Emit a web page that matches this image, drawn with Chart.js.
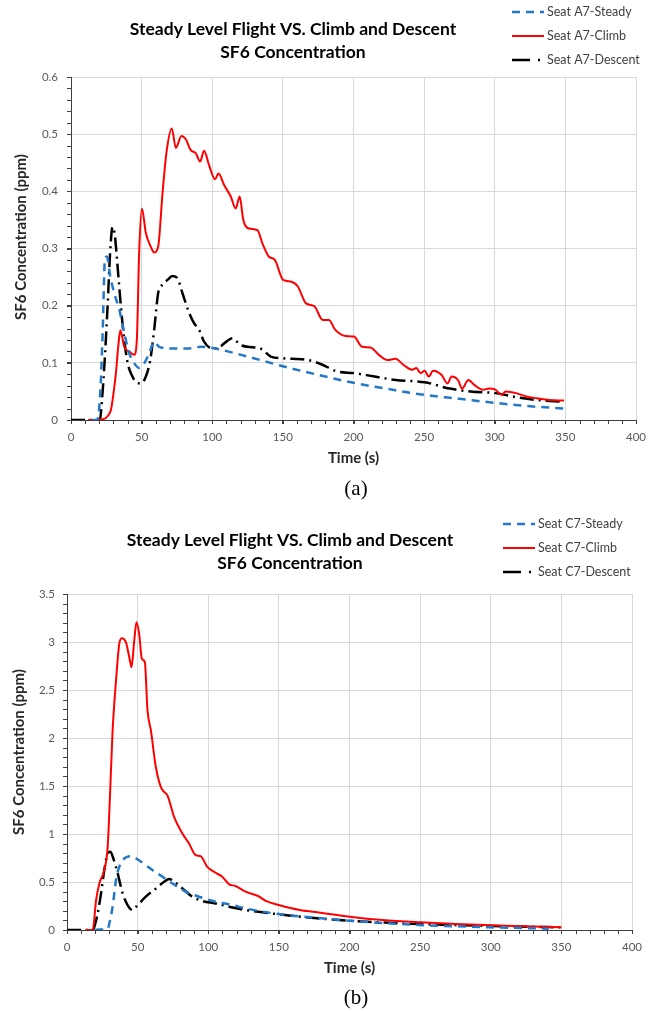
<!DOCTYPE html>
<html>
<head>
<meta charset="utf-8">
<script src="https://cdn.jsdelivr.net/npm/chart.js@4.4.0/dist/chart.umd.min.js"></script>
<style>
  body { margin: 0; background: #fff; width: 655px; height: 1012px; position: relative; overflow: hidden; }
  .box { position: absolute; left: 0; width: 655px; }
  .cap { position: absolute; transform: translate(-50%, -50%); font-family: "Liberation Serif", serif; font-size: 21px; color: #000; }
</style>
</head>
<body>
<div class="box" style="top:0;height:505px"><canvas id="chartA" width="655" height="505"></canvas></div>
<div class="box" style="top:505px;height:507px"><canvas id="chartB" width="655" height="507"></canvas></div>
<div class="cap" style="left:356px;top:488px">(a)</div>
<div class="cap" style="left:356px;top:997px">(b)</div>
<script>
// chart titles
var titleLines = ['Steady Level Flight VS. Climb and Descent', 'SF6 Concentration'];
var yTitle = 'SF6 Concentration (ppm)';
var xTicks = [0, 50, 100, 150, 200, 250, 300, 350, 400];
var yTicksA = [0, 0.1, 0.2, 0.3, 0.4, 0.5, 0.6];
var yTicksB = [0, 0.5, 1, 1.5, 2, 2.5, 3, 3.5];

// (a) Seat A7
var a7SteadyT = [15, 18.5, 20.7, 22.4, 24, 25.4, 27.8, 30.6, 34.2, 37.7, 41.2, 44.8, 48.3, 51.8, 55.4, 58.9, 62.4, 70.7, 82.5, 91.9, 100, 125, 150, 175, 200, 225, 250, 275, 300, 325, 350];
var a7SteadyV = [0, 0, 0.047, 0.152, 0.280, 0.286, 0.251, 0.222, 0.193, 0.152, 0.117, 0.099, 0.091, 0.099, 0.117, 0.137, 0.128, 0.125, 0.125, 0.128, 0.126, 0.111, 0.094, 0.079, 0.065, 0.054, 0.044, 0.037, 0.030, 0.024, 0.020];

var a7ClimbT = [12, 23.5, 26, 28.3, 30, 31.8, 33.5, 34.9, 37.7, 41.2, 44.7, 46.6, 48.3, 50.2, 53, 56.5, 58.9, 61.7, 64.8, 67.8, 71.4, 74.2, 78.2, 81.3, 84.8, 88.3, 91.4, 94.2, 97.7, 102, 104.4, 108.4, 113.1, 116.6, 119.4, 122, 126, 132, 135.5, 140, 144.3, 150.2, 156, 160.5, 166.4, 172.3, 178.2, 182.6, 187, 194.4, 200.3, 206.2, 212, 218, 223.9, 229.7, 235.6, 241.5, 244.5, 247.4, 250.4, 253.3, 256.3, 262.2, 266.6, 269.5, 274, 276.9, 281.3, 285.7, 291.6, 296, 300.4, 304.9, 307.8, 315.2, 322.5, 329.9, 338.7, 349];
var a7ClimbV = [0, 0.002, 0.007, 0.018, 0.045, 0.082, 0.13, 0.157, 0.128, 0.12, 0.114, 0.14, 0.297, 0.370, 0.327, 0.303, 0.293, 0.303, 0.397, 0.472, 0.510, 0.476, 0.497, 0.491, 0.472, 0.467, 0.452, 0.471, 0.446, 0.421, 0.431, 0.411, 0.391, 0.370, 0.391, 0.350, 0.335, 0.332, 0.309, 0.286, 0.280, 0.245, 0.242, 0.234, 0.204, 0.199, 0.175, 0.175, 0.158, 0.147, 0.146, 0.128, 0.127, 0.114, 0.105, 0.107, 0.096, 0.088, 0.091, 0.082, 0.086, 0.076, 0.086, 0.079, 0.064, 0.076, 0.070, 0.055, 0.070, 0.061, 0.053, 0.055, 0.053, 0.044, 0.050, 0.047, 0.041, 0.038, 0.035, 0.034];

var a7DescentT = [0, 20.5, 21.2, 23.6, 25.9, 27.8, 29.4, 31.1, 33, 35.3, 37.7, 40.1, 42.9, 45.9, 49.5, 53, 56.1, 58.9, 61.7, 63.6, 68.3, 71.9, 75.4, 78.9, 83.7, 87.2, 90.7, 94.2, 100.1, 103.6, 108.4, 114.3, 120.1, 129.6, 135, 141.4, 150.2, 167.9, 176.7, 188.5, 200.3, 215, 229.7, 250.4, 268, 282.8, 300.4, 315.2, 329.9, 349];
var a7DescentV = [0, 0, 0.013, 0.094, 0.199, 0.297, 0.338, 0.321, 0.268, 0.199, 0.140, 0.100, 0.079, 0.067, 0.064, 0.076, 0.105, 0.158, 0.222, 0.233, 0.245, 0.252, 0.248, 0.222, 0.187, 0.169, 0.158, 0.137, 0.125, 0.125, 0.134, 0.143, 0.131, 0.127, 0.124, 0.111, 0.108, 0.105, 0.098, 0.085, 0.082, 0.076, 0.070, 0.066, 0.055, 0.050, 0.047, 0.040, 0.035, 0.032];

// (b) Seat C7
var c7SteadyT = [20, 22.9, 28.8, 30, 32.3, 34.7, 37, 40.6, 44.5, 48.8, 53.5, 60.5, 67.6, 74.6, 84, 93.5, 105.2, 117, 126.4, 150, 175, 200, 225, 250, 275, 300, 325, 341];
var c7SteadyV = [0, 0.005, 0.01, 0.07, 0.243, 0.52, 0.658, 0.745, 0.769, 0.745, 0.700, 0.624, 0.555, 0.485, 0.399, 0.347, 0.295, 0.26, 0.225, 0.166, 0.128, 0.097, 0.072, 0.052, 0.039, 0.028, 0.02, 0.014];

var c7ClimbT = [13, 18.2, 20.6, 22.9, 26.4, 28.8, 30.4, 32.3, 34.7, 37, 38.7, 41.7, 44.1, 45.7, 47.6, 49.2, 51.1, 53, 55.1, 57, 59.4, 62.9, 66.4, 68.8, 71.1, 75.8, 81.7, 86.4, 91.1, 94.6, 99.3, 105.2, 109.9, 114.6, 119.3, 126.4, 135.3, 141.2, 150, 164.7, 179.4, 200, 223.5, 250, 275, 300, 325, 350];
var c7ClimbV = [0, 0, 0.312, 0.485, 0.624, 0.866, 1.386, 2.079, 2.599, 2.980, 3.04, 2.998, 2.842, 2.738, 3.015, 3.206, 3.084, 2.825, 2.79, 2.287, 2.079, 1.698, 1.490, 1.438, 1.403, 1.178, 1.005, 0.901, 0.780, 0.769, 0.658, 0.596, 0.555, 0.478, 0.458, 0.399, 0.354, 0.30, 0.26, 0.208, 0.18, 0.139, 0.104, 0.08, 0.063, 0.049, 0.038, 0.028];

var c7DescentT = [0, 18.2, 21.7, 24.1, 26.4, 28.8, 30.7, 32.8, 35.9, 39.4, 42.9, 46.4, 50, 55.8, 63, 68.8, 72.4, 75.8, 81.7, 88.7, 95.8, 105.2, 114.6, 126.4, 150, 175, 200, 225, 250, 275, 300, 325, 350];
var c7DescentV = [0, 0, 0.173, 0.381, 0.624, 0.797, 0.814, 0.745, 0.589, 0.381, 0.26, 0.208, 0.26, 0.347, 0.433, 0.503, 0.53, 0.503, 0.433, 0.347, 0.302, 0.277, 0.243, 0.208, 0.163, 0.125, 0.097, 0.077, 0.062, 0.051, 0.042, 0.034, 0.028];

Chart.defaults.font.family = 'Lato';
Chart.defaults.color = '#595959';

var AXIS = '#404040';

// titles, y axis title and legend drawn on the canvas
var overlay = {
  id: 'overlay',
  afterDraw: function(chart, args, o) {
    var ctx = chart.ctx;
    ctx.save();
    ctx.fillStyle = '#000';
    ctx.textAlign = 'center';
    ctx.textBaseline = 'middle';
    ctx.font = 'bold 17.5px Lato';
    titleLines.forEach(function(t, i) {
      ctx.fillText(t, o.titleX, o.titleY + i * 23);
    });

    ctx.save();
    ctx.translate(o.yTitleX, o.yTitleY);
    ctx.rotate(-Math.PI / 2);
    ctx.fillStyle = '#262626';
    ctx.font = 'bold 15px Lato';
    ctx.fillText(yTitle, 0, 0);
    ctx.restore();

    ctx.textAlign = 'left';
    ctx.font = '12.5px Lato';
    chart.data.datasets.forEach(function(ds, i) {
      var y = o.legY + i * 24;
      var dash = ds.borderDash || [];
      // the legend sample shows one long dash and one dot for dash-dot lines
      if (dash.length === 4) dash = [18, 8, 2, 20];
      ctx.strokeStyle = ds.borderColor;
      ctx.lineWidth = ds.borderWidth;
      ctx.setLineDash(dash);
      ctx.beginPath();
      ctx.moveTo(o.legX, y);
      ctx.lineTo(o.legX + 32, y);
      ctx.stroke();
      ctx.setLineDash([]);
      ctx.fillStyle = '#404040';
      ctx.fillText(ds.label, o.legX + 35, y);
    });
    ctx.restore();
  }
};

// excel style minor tick marks
var minorTicks = {
  id: 'minorTicks',
  afterDraw: function(chart, args, o) {
    var ctx = chart.ctx, x = chart.scales.x, y = chart.scales.y;
    ctx.save();
    ctx.strokeStyle = AXIS;
    ctx.lineWidth = 1;
    ctx.beginPath();
    for (var t = x.min; t <= x.max; t += o.xStep) {
      var px = Math.round(x.getPixelForValue(t)) + 0.5;
      ctx.moveTo(px, y.bottom);
      ctx.lineTo(px, y.bottom + 4);
    }
    for (var k = 0; k * o.yStep <= y.max + 1e-9; k++) {
      var py = Math.round(y.getPixelForValue(k * o.yStep)) + 0.5;
      ctx.moveTo(x.left - 4, py);
      ctx.lineTo(x.left, py);
    }
    ctx.stroke();
    ctx.restore();
  }
};

function series(label, t, v, color, width, dash) {
  return {
    label: label,
    data: t.map(function(x, i) { return { x: x, y: v[i] }; }),
    borderColor: color,
    borderWidth: width,
    borderDash: dash,
    pointRadius: 0,
    fill: false,
    cubicInterpolationMode: 'monotone'
  };
}

function makeChart(id, datasets, c) {
  return new Chart(document.getElementById(id), {
    type: 'line',
    data: { datasets: datasets },
    options: {
      responsive: false,
      animation: false,
      layout: { padding: { top: c.top, right: c.right, bottom: c.bottom, left: 0 } },
      plugins: {
        legend: { display: false },
        title: { display: false },
        tooltip: { enabled: false },
        overlay: { titleX: c.titleX, titleY: c.titleY, legX: c.legX, legY: c.legY, yTitleX: c.yTitleX, yTitleY: c.yTitleY },
        minorTicks: { xStep: 10, yStep: c.minorY }
      },
      scales: {
        x: {
          type: 'linear', min: 0, max: 400,
          afterBuildTicks: function(s) { s.ticks = xTicks.map(function(v) { return { value: v }; }); },
          ticks: { font: { size: 11.5 }, padding: 6, maxRotation: 0 },
          grid: { color: '#d9d9d9', tickColor: AXIS, tickLength: 4 },
          border: { color: AXIS, width: 1 },
          title: { display: true, text: 'Time (s)', color: '#262626', font: { size: 15, weight: 'bold' }, padding: { top: 0, bottom: 1 } },
          afterFit: function(s) { s.height = 48; }
        },
        y: {
          min: 0, max: c.yTicks[c.yTicks.length - 1],
          afterBuildTicks: function(s) { s.ticks = c.yTicks.map(function(v) { return { value: v }; }); },
          ticks: { font: { size: 11.5 }, padding: c.yPad, callback: function(v) { return String(+v.toFixed(2)); } },
          grid: { color: '#d9d9d9', tickColor: AXIS, tickLength: 4 },
          border: { color: AXIS, width: 1 },
          afterFit: function(s) { s.width = c.yWidth; }
        }
      }
    },
    plugins: [overlay, minorTicks]
  });
}

makeChart('chartA', [
  series('Seat A7-Steady', a7SteadyT, a7SteadyV, '#2478c8', 2.5, [8, 6]),
  series('Seat A7-Climb', a7ClimbT, a7ClimbV, '#ff0000', 2, []),
  series('Seat A7-Descent', a7DescentT, a7DescentV, '#000000', 2.5, [14, 5, 2, 5])
], { top: 77, right: 19, bottom: 37, yWidth: 71, yPad: 9, yTicks: yTicksA, minorY: 0.02,
     titleX: 293, titleY: 29, legX: 512, legY: 12, yTitleX: 21, yTitleY: 237 });

makeChart('chartB', [
  series('Seat C7-Steady', c7SteadyT, c7SteadyV, '#2478c8', 2.5, [8, 6]),
  series('Seat C7-Climb', c7ClimbT, c7ClimbV, '#ff0000', 2, []),
  series('Seat C7-Descent', c7DescentT, c7DescentV, '#000000', 2.5, [14, 5, 2, 5])
], { top: 89, right: 23, bottom: 34, yWidth: 67, yPad: 8, yTicks: yTicksB, minorY: 0.1,
     titleX: 290, titleY: 35, legX: 503, legY: 19, yTitleX: 19, yTitleY: 247 });
</script>
</body>
</html>
